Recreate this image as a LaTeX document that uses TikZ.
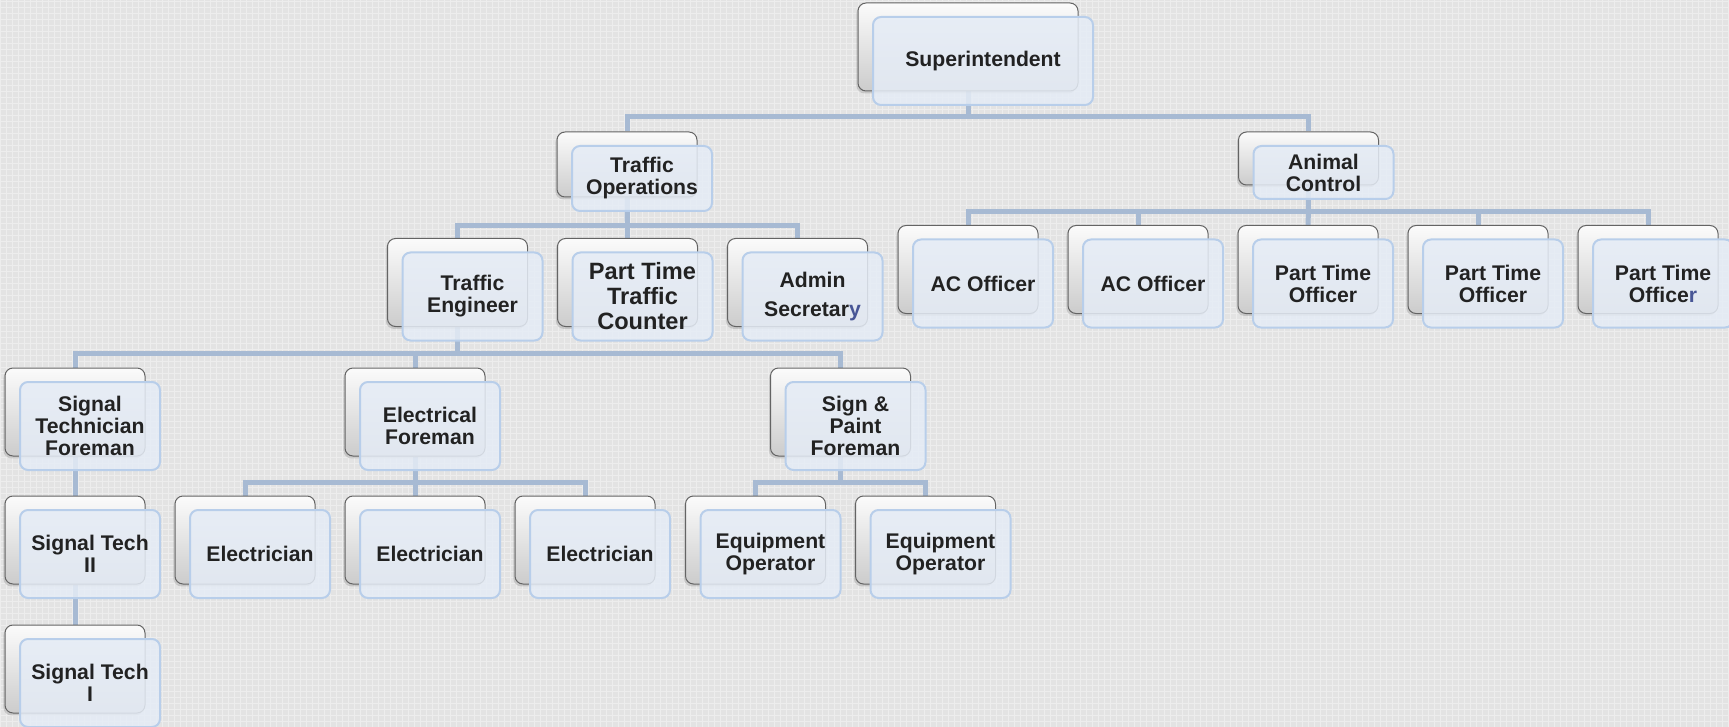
\documentclass[tikz,border=0pt]{standalone}
\usepackage{fontspec}
\setmainfont{Liberation Sans}
\usetikzlibrary{positioning,shadows,patterns}
\definecolor{paper}{RGB}{227,227,227}
\definecolor{paperdot}{RGB}{237,237,237}
\definecolor{linkblue}{RGB}{167,186,211}
\definecolor{boxblue}{RGB}{229,236,246}
\definecolor{boxedge}{RGB}{184,206,234}
\definecolor{backedge}{RGB}{100,100,100}
\definecolor{inkgray}{RGB}{34,34,34}
\definecolor{letterblue}{RGB}{72,86,150}
\pgfdeclarelayer{paper}
\pgfdeclarelayer{wires}
\pgfsetlayers{paper,wires,main}
\tikzset{backbox/.style={
        draw=backedge,
        line width=0.5pt,
        rounded corners=4pt,
        minimum width=70pt,
        minimum height=44pt,
        inner sep=0pt,
        top color=white!97!gray,
        bottom color=gray!40,
        drop shadow={shadow xshift=-0.8pt, shadow yshift=-1.2pt, opacity=0.3},
    },
    frontbox/.style={
        draw=boxedge,
        line width=1pt,
        rounded corners=4pt,
        fill=boxblue,
        fill opacity=0.85,
        text opacity=1,
        minimum width=70pt,
        minimum height=44pt,
        inner sep=0pt,
        align=center,
        text=inkgray,
        font=\bfseries\fontsize{10.6}{11}\selectfont,
    },
    wide/.style={minimum width=110pt},
    link/.style={draw=linkblue, line width=2.5pt},
}

\begin{document}
\begin{tikzpicture}[x=0.5pt,y=-0.5pt,node distance=85pt,on grid]
  \useasboundingbox (0,0) rectangle (1729,727);
  \begin{pgfonlayer}{paper}
    \fill[paper] (0,0) rectangle (1729,727);
    \fill[pattern=grid, pattern color=paperdot] (0,0) rectangle (1729,727);
  \end{pgfonlayer}

  % top
  \node[backbox, wide] (sup) at (968,47) {};
  \node[frontbox, wide] (sup-t) [below right=7pt and 7.5pt of sup] {Superintendent};

  \node[backbox, minimum height=32.5pt] (trops) at (627,164.5) {};
  \node[frontbox, minimum height=32.5pt] (trops-t) [below right=7pt and 7.5pt of trops] {Traffic\\Operations};
  \node[backbox, minimum height=26.5pt] (anim) at (1308.5,158.5) {};
  \node[frontbox, minimum height=26.5pt] (anim-t) [below right=7pt and 7.5pt of anim] {Animal\\Control};

  % animal control
  \node[backbox] (ac1) at (968,269.5) {};
  \node[backbox] (ac2) [right=of ac1] {};
  \node[backbox] (ac3) [right=of ac2] {};
  \node[backbox] (ac4) [right=of ac3] {};
  \node[backbox] (ac5) [right=of ac4] {};
  \node[frontbox] (ac1-t) [below right=7pt and 7.5pt of ac1] {AC Officer};
  \node[frontbox] (ac2-t) [below right=7pt and 7.5pt of ac2] {AC Officer};
  \node[frontbox] (ac3-t) [below right=7pt and 7.5pt of ac3] {Part Time\\Officer};
  \node[frontbox] (ac4-t) [below right=7pt and 7.5pt of ac4] {Part Time\\Officer};
  \node[frontbox] (ac5-t) [below right=7pt and 7.5pt of ac5] {Part Time\\Office\textcolor{letterblue}{r}};

  % traffic operations
  \node[backbox] (teng) at (457.5,282.5) {};
  \node[backbox] (ptcount) [right=of teng] {};
  \node[backbox] (admin) [right=of ptcount] {};
  \node[frontbox] (teng-t) [below right=7pt and 7.5pt of teng] {Traffic\\Engineer};
  \node[frontbox, font=\bfseries\fontsize{11.8}{12.5}\selectfont] (ptcount-t) [below right=7pt and 7.5pt of ptcount] {Part Time\\Traffic\\Counter};
  \node[frontbox] (admin-t) [below right=7pt and 7.5pt of admin] {Admin\\[3.5pt]Secretar\textcolor{letterblue}{y}};

  % traffic engineer
  \node[backbox] (stf) at (75,412) {};
  \node[backbox] (elf) at (415,412) {};
  \node[backbox] (spf) at (840.5,412) {};
  \node[frontbox] (stf-t) [below right=7pt and 7.5pt of stf] {Signal\\Technician\\Foreman};
  \node[frontbox] (elf-t) [below right=7pt and 7.5pt of elf] {Electrical\\Foreman};
  \node[frontbox] (spf-t) [below right=7pt and 7.5pt of spf] {Sign \&\\Paint\\Foreman};

  \node[backbox] (st2) [below=64pt of stf] {};
  \node[frontbox] (st2-t) [below right=7pt and 7.5pt of st2] {Signal Tech\\II};
  \node[backbox] (st1) [below=64.5pt of st2] {};
  \node[frontbox] (st1-t) [below right=7pt and 7.5pt of st1] {Signal Tech\\I};

  \node[backbox] (elec1) at (245,540) {};
  \node[backbox] (elec2) [right=of elec1] {};
  \node[backbox] (elec3) [right=of elec2] {};
  \node[frontbox] (elec1-t) [below right=7pt and 7.5pt of elec1] {Electrician};
  \node[frontbox] (elec2-t) [below right=7pt and 7.5pt of elec2] {Electrician};
  \node[frontbox] (elec3-t) [below right=7pt and 7.5pt of elec3] {Electrician};

  \node[backbox] (eq1) at (755.5,540) {};
  \node[backbox] (eq2) [right=of eq1] {};
  \node[frontbox] (eq1-t) [below right=7pt and 7.5pt of eq1] {Equipment\\Operator};
  \node[frontbox] (eq2-t) [below right=7pt and 7.5pt of eq2] {Equipment\\Operator};

  % connectors
  \coordinate (bus-sup) at (0,117);
  \coordinate (bus-trops) at (0,226);
  \coordinate (bus-anim) at (0,212);
  \coordinate (bus-teng) at (0,353);
  \coordinate (bus-elf) at (0,482);
  \coordinate (bus-spf) at (0,482);
  \begin{pgfonlayer}{wires}
    \draw[link] (sup) -- (sup |- bus-sup) -| (trops);
    \draw[link] (sup |- bus-sup) -| (anim);
    \draw[link] (trops) -- (trops |- bus-trops) -| (teng);
    \draw[link] (trops |- bus-trops) -| (admin);
    \draw[link] (trops) -- (ptcount);
    \draw[link] (anim) -- (anim |- bus-anim) -| (ac1);
    \draw[link] (anim |- bus-anim) -| (ac2);
    \draw[link] (anim) -- (ac3);
    \draw[link] (anim |- bus-anim) -| (ac4);
    \draw[link] (anim |- bus-anim) -| (ac5);
    \draw[link] (teng) -- (teng |- bus-teng) -| (stf);
    \draw[link] (teng |- bus-teng) -| (elf);
    \draw[link] (teng |- bus-teng) -| (spf);
    \draw[link] (stf) -- (st2);
    \draw[link] (st2) -- (st1);
    \draw[link] (elf) -- (elf |- bus-elf) -| (elec1);
    \draw[link] (elf) -- (elec2);
    \draw[link] (elf |- bus-elf) -| (elec3);
    \draw[link] (spf) -- (spf |- bus-spf) -| (eq1);
    \draw[link] (spf |- bus-spf) -| (eq2);
  \end{pgfonlayer}
\end{tikzpicture}
\end{document}
